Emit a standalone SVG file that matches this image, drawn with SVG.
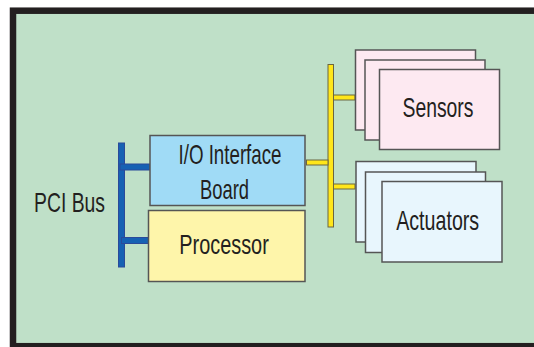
<svg xmlns="http://www.w3.org/2000/svg" width="534" height="347" viewBox="0 0 534 347">
<style>
.box{stroke:#555;stroke-width:1.5}
.sen{fill:#fde9f1}
.act{fill:#e8f6fd}
.t{font-family:"Liberation Sans",Arial,sans-serif;font-size:28.5px;fill:#231f20;text-anchor:middle}
.blue{fill:#1661b3;stroke:#2a4a9a;stroke-width:1}
.yel{fill:#ffe61a;stroke:#6b6640;stroke-width:1}
</style>
<rect x="0" y="0" width="534" height="347" fill="#ffffff"/>
<rect id="frame" x="13" y="10.7" width="600" height="335.5" fill="#bfe0c8" stroke="#231f20" stroke-width="6.5"/>
<g id="connectors">
<rect class="blue" x="118.5" y="143" width="6" height="124"/>
<rect class="blue" x="120" y="164" width="30" height="6"/>
<rect class="blue" x="121.5" y="237.5" width="27" height="6"/>
<rect class="yel" x="328" y="64.5" width="5.5" height="162.5"/>
<rect class="yel" x="306.5" y="160" width="21.5" height="5"/>
<rect class="yel" x="333.5" y="95" width="21.5" height="5"/>
<rect class="yel" x="333.5" y="184" width="21.5" height="5"/>
</g>
<g id="pci-bus"><text class="t" x="69.5" y="211.5" textLength="71" lengthAdjust="spacingAndGlyphs">PCI Bus</text></g>
<g id="io-board">
<rect class="box" x="150" y="135.5" width="155" height="70" fill="#a0dbf6"/>
<text class="t" x="230" y="163.5" textLength="103" lengthAdjust="spacingAndGlyphs">I/O Interface</text>
<text class="t" x="224.5" y="198.5" textLength="49" lengthAdjust="spacingAndGlyphs">Board</text>
</g>
<g id="processor">
<rect class="box" x="148.5" y="210.5" width="156.5" height="71" fill="#fef5aa"/>
<text class="t" x="224" y="253.5" textLength="89.5" lengthAdjust="spacingAndGlyphs">Processor</text>
</g>
<g id="sensors">
<rect class="box sen" x="355.5" y="50" width="120" height="80"/>
<rect class="box sen" x="365" y="60" width="120" height="80"/>
<rect class="box sen" x="379.5" y="69.5" width="120" height="80"/>
<text class="t" x="438" y="117" textLength="71" lengthAdjust="spacingAndGlyphs">Sensors</text>
</g>
<g id="actuators">
<rect class="box act" x="356" y="161.5" width="120" height="80.5"/>
<rect class="box act" x="365.5" y="172" width="120" height="80.5"/>
<rect class="box act" x="382" y="181.5" width="120" height="80.5"/>
<text class="t" x="437.7" y="230" textLength="83" lengthAdjust="spacingAndGlyphs">Actuators</text>
</g>
</svg>
